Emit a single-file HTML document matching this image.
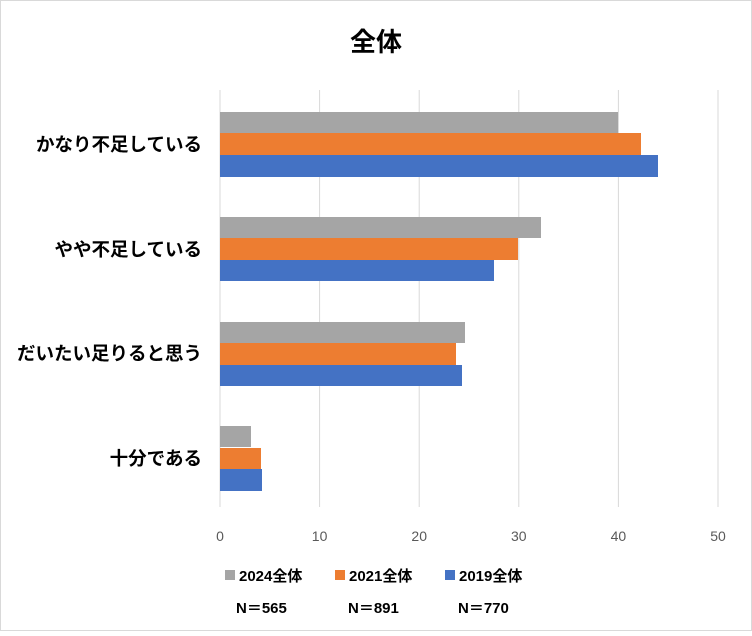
<!DOCTYPE html>
<html><head><meta charset="utf-8"><style>
body{margin:0;background:#fff;}
.f{font-family:"Liberation Sans","Noto Sans CJK JP",sans-serif;}
</style></head><body>
<svg width="752" height="631" xmlns="http://www.w3.org/2000/svg" class="f">
<rect x="0.5" y="0.5" width="751" height="630" fill="#fff" stroke="#d9d9d9"/>
<text x="376" y="51" text-anchor="middle" font-size="26" font-weight="bold" fill="#000" font-family="Liberation Sans,Noto Sans CJK JP,sans-serif">全体</text>
<g stroke="#d9d9d9" stroke-width="1">
<line x1="220" y1="90" x2="220" y2="507"/>
<line x1="319.6" y1="90" x2="319.6" y2="507"/>
<line x1="419.2" y1="90" x2="419.2" y2="507"/>
<line x1="518.8" y1="90" x2="518.8" y2="507"/>
<line x1="618.4" y1="90" x2="618.4" y2="507"/>
<line x1="718" y1="90" x2="718" y2="507"/>
</g>
<g>
<rect x="220" y="112" width="398" height="21" fill="#a5a5a5"/>
<rect x="220" y="133" width="421" height="22" fill="#ed7d31"/>
<rect x="220" y="155" width="438" height="22" fill="#4472c4"/>
<rect x="220" y="217" width="321" height="21" fill="#a5a5a5"/>
<rect x="220" y="238" width="298" height="22" fill="#ed7d31"/>
<rect x="220" y="260" width="274" height="21" fill="#4472c4"/>
<rect x="220" y="322" width="245" height="21" fill="#a5a5a5"/>
<rect x="220" y="343" width="236" height="22" fill="#ed7d31"/>
<rect x="220" y="365" width="242" height="21" fill="#4472c4"/>
<rect x="220" y="426" width="31" height="21" fill="#a5a5a5"/>
<rect x="220" y="448" width="41" height="21" fill="#ed7d31"/>
<rect x="220" y="469" width="42" height="22" fill="#4472c4"/>
</g>
<g font-size="18.5" font-weight="bold" fill="#000" text-anchor="end" font-family="Liberation Sans,Noto Sans CJK JP,sans-serif">
<text x="202" y="151">かなり不足している</text>
<text x="202" y="256">やや不足している</text>
<text x="202" y="360">だいたい足りると思う</text>
<text x="202" y="465">十分である</text>
</g>
<g font-size="14" fill="#595959" text-anchor="middle">
<text x="220" y="541">0</text>
<text x="319.6" y="541">10</text>
<text x="419.2" y="541">20</text>
<text x="518.8" y="541">30</text>
<text x="618.4" y="541">40</text>
<text x="718" y="541">50</text>
</g>
<g font-size="15" font-weight="bold" fill="#000" font-family="Liberation Sans,Noto Sans CJK JP,sans-serif">
<rect x="225" y="570" width="10" height="10" fill="#a5a5a5"/>
<text x="239" y="581">2024全体</text>
<rect x="335" y="570" width="10" height="10" fill="#ed7d31"/>
<text x="349" y="581">2021全体</text>
<rect x="445" y="570" width="10" height="10" fill="#4472c4"/>
<text x="459" y="581">2019全体</text>
<text x="236" y="613">N＝565</text>
<text x="348" y="613">N＝891</text>
<text x="458" y="613">N＝770</text>
</g>
</svg>
</body></html>
